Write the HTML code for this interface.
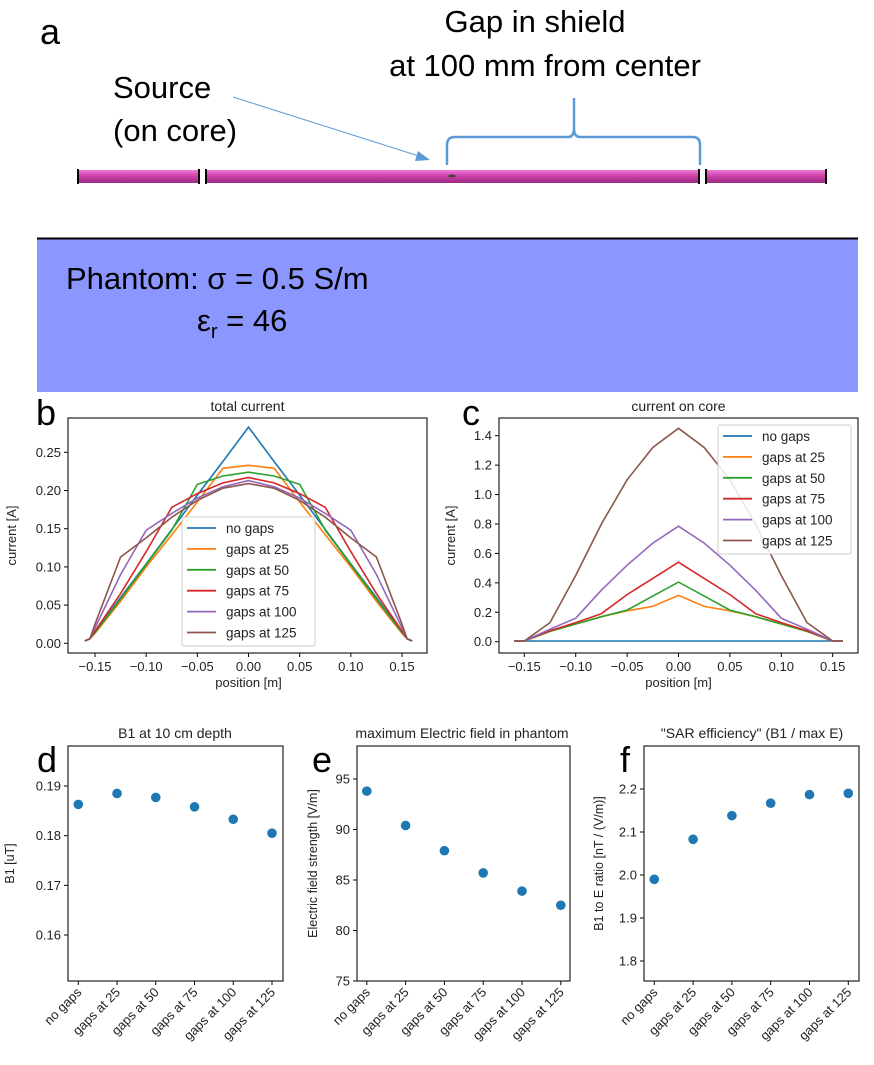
<!DOCTYPE html>
<html><head><meta charset="utf-8"><style>
body{margin:0;background:#fff;}
svg{display:block;font-family:"Liberation Sans","DejaVu Sans",sans-serif;}
</style></head><body>
<svg id="fig" width="874" height="1065" viewBox="0 0 874 1065">
<g>
<text x="40" y="44" font-size="36">a</text>
<text x="535" y="32" font-size="31" text-anchor="middle">Gap in shield</text>
<text x="545" y="76" font-size="31" text-anchor="middle">at 100 mm from center</text>
<text x="113" y="98" font-size="31">Source</text>
<text x="113" y="141" font-size="31">(on core)</text>
<line x1="233" y1="97" x2="422" y2="157" stroke="#5b9bd5" stroke-width="1"/>
<polygon points="430,160 418,151 415,161" fill="#5b9bd5"/>
<path d="M447,165 L447,145 Q447,137 455,137 L568,137 Q574,137 574,128 L574,98 M574,128 Q574,137 580,137 L693,137 Q700,137 700,145 L700,165" fill="none" stroke="#5b9bd5" stroke-width="2.5"/>
<defs><linearGradient id="rod" x1="0" y1="0" x2="0" y2="1"><stop offset="0" stop-color="#f07ad8"/><stop offset="0.5" stop-color="#c83fa6"/><stop offset="1" stop-color="#9c2c80"/></linearGradient></defs>
<rect x="78" y="170" width="121" height="13" fill="url(#rod)"/>
<rect x="206" y="170" width="493" height="13" fill="url(#rod)"/>
<rect x="706" y="170" width="120" height="13" fill="url(#rod)"/>
<g stroke="#000" stroke-width="2"><line x1="78" y1="169" x2="78" y2="184"/><line x1="199" y1="169" x2="199" y2="184"/><line x1="206" y1="169" x2="206" y2="184"/><line x1="699" y1="169" x2="699" y2="184"/><line x1="706" y1="169" x2="706" y2="184"/><line x1="826" y1="169" x2="826" y2="184"/></g>
<ellipse cx="452" cy="176" rx="4" ry="1.5" fill="#444"/>
<rect x="37" y="238" width="821" height="154" fill="#8c96ff"/>
<line x1="37" y1="238.5" x2="858" y2="238.5" stroke="#000" stroke-width="2"/>
<text x="66" y="289" font-size="31">Phantom: σ = 0.5 S/m</text>
<text x="197" y="331" font-size="31">ε<tspan font-size="20" dy="7">r</tspan><tspan dy="-7"> = 46</tspan></text>
</g>
<g id="charts"></g>
</svg>
<script>
const NS="http://www.w3.org/2000/svg";
const colors=["#1f77b4","#ff7f0e","#2ca02c","#d62728","#9467bd","#8c564b"];
const seriesNames=["no gaps","gaps at 25","gaps at 50","gaps at 75","gaps at 100","gaps at 125"];
// Panel b data (half profile, mirrored)
const bX=[-0.16,-0.155,-0.15,-0.125,-0.10,-0.075,-0.05,-0.025,0];
const bNoGaps=[0.003,0.006,0.015,0.06,0.104,0.149,0.194,0.238,0.283];
const bGaps25=[0.003,0.006,0.013,0.055,0.10,0.142,0.185,0.229,0.233];
const bGaps50=[0.003,0.006,0.014,0.058,0.103,0.148,0.208,0.219,0.224];
const bGaps75=[0.003,0.006,0.016,0.065,0.12,0.178,0.196,0.21,0.217];
const bGaps100=[0.003,0.006,0.02,0.09,0.148,0.17,0.19,0.205,0.213];
const bGaps125=[0.003,0.006,0.025,0.113,0.138,0.165,0.187,0.203,0.209];
const bYTicks=[0,0.05,0.10,0.15,0.20,0.25];
const bYTickLabels=["0.00","0.05","0.10","0.15","0.20","0.25"];
// Panel c data
const cX=[-0.16,-0.15,-0.125,-0.10,-0.075,-0.05,-0.025,0];
const cNoGaps=[0.005,0.005,0.005,0.005,0.005,0.005,0.005,0.005];
const cGaps25=[0.005,0.005,0.07,0.12,0.17,0.21,0.24,0.315];
const cGaps50=[0.005,0.005,0.07,0.12,0.17,0.215,0.31,0.405];
const cGaps75=[0.005,0.005,0.075,0.13,0.19,0.32,0.43,0.54];
const cGaps100=[0.005,0.005,0.085,0.16,0.35,0.52,0.67,0.785];
const cGaps125=[0.005,0.005,0.13,0.45,0.80,1.10,1.32,1.45];
const cYTicks=[0,0.2,0.4,0.6,0.8,1.0,1.2,1.4];
const cYTickLabels=["0.0","0.2","0.4","0.6","0.8","1.0","1.2","1.4"];
const posXTicks=[-0.15,-0.10,-0.05,0,0.05,0.10,0.15];
const posXTickLabels=["−0.15","−0.10","−0.05","0.00","0.05","0.10","0.15"];
// Panels d,e,f
const categories=["no gaps","gaps at 25","gaps at 50","gaps at 75","gaps at 100","gaps at 125"];
const dValues=[0.1863,0.1885,0.1877,0.1858,0.1833,0.1805];
const eValues=[93.8,90.4,87.9,85.7,83.9,82.5];
const fValues=[1.99,2.083,2.138,2.167,2.187,2.19];
const dTicks=[0.16,0.17,0.18,0.19];
const eTicks=[75,80,85,90,95];
const fTicks=[1.8,1.9,2.0,2.1,2.2];

const root=document.getElementById('charts');
function el(tag,attrs,parent,text){const e=document.createElementNS(NS,tag);for(const k in attrs)e.setAttribute(k,attrs[k]);if(text!==undefined)e.textContent=text;(parent||root).appendChild(e);return e;}
function lin(d0,d1,r0,r1){return v=>r0+(v-d0)*(r1-r0)/(d1-d0);}

function linePanel(o){
  const g=el('g',{});
  
  
  const X=lin(-0.15,0.15,o.xa,o.xb), Y=lin(o.y0v,o.y1v,o.y0p,o.y1p);
  o.ticksY.forEach((t,i)=>{const y=Y(t);el('line',{x1:o.L-4,x2:o.L,y1:y,y2:y,stroke:'#000'},g);
    const tx=el('text',{x:o.L-7,y:y+4.5,'font-size':13,'text-anchor':'end',fill:'#222'},g,o.tickLabY[i]);
    });
  posXTicks.forEach((t,i)=>{const x=X(t);el('line',{x1:x,x2:x,y1:o.B,y2:o.B+4,stroke:'#000'},g);
    const tx=el('text',{x:x,y:o.B+18,'font-size':13,'text-anchor':'middle',fill:'#222'},g,posXTickLabels[i]);
    });
  o.series.forEach((s,i)=>{
    const pts=[];o.xs.forEach((xv,j)=>pts.push([X(xv),Y(s[j])]));
    for(let j=o.xs.length-2;j>=0;j--)pts.push([X(-o.xs[j]),Y(s[j])]);
    const p=el('polyline',{points:pts.map(p=>p[0].toFixed(1)+','+p[1].toFixed(1)).join(' '),fill:'none',stroke:colors[i],'stroke-width':1.6},g);
    
    
  });
  const fr=el('rect',{x:o.L,y:o.T,width:o.R-o.L,height:o.B-o.T,fill:'none',stroke:'#222','stroke-width':1.2},g);
  
  const lg=el('g',{},g);
  
  el('rect',{x:o.lg.x,y:o.lg.y,width:o.lg.w,height:o.lg.h,fill:'#fff','fill-opacity':0.85,stroke:'#ccc',rx:2},lg);
  seriesNames.forEach((n,i)=>{const y=o.lg.ry0+i*o.lg.dy;
    el('line',{x1:o.lg.x+5,x2:o.lg.x+34,y1:y,y2:y,stroke:colors[i],'stroke-width':1.8},lg);
    const t=el('text',{x:o.lg.x+44,y:y+5,'font-size':13.5,fill:'#222'},lg,n);
    });
  const ti=el('text',{x:(o.L+o.R)/2,y:o.T-7,'font-size':14,'text-anchor':'middle',fill:'#222'},g,o.title);
  
  const xl=el('text',{x:X(0),y:o.B+34,'font-size':13,'text-anchor':'middle',fill:'#222'},g,'position [m]');
  
  const yl=el('text',{x:o.ylx,y:(o.T+o.B)/2,'font-size':13,'text-anchor':'middle',fill:'#222',transform:`rotate(-90 ${o.ylx} ${(o.T+o.B)/2})`},g,'current [A]');
  
  const pl=el('text',{x:o.lab[0],y:o.lab[1],'font-size':36,fill:'#000'},g,o.label);
  
}
linePanel({name:'panel-b-total-current',L:68,R:427,T:418,B:653,xa:95,xb:402,y0v:0,y1v:0.25,y0p:643.3,y1p:452.3,
  ticksY:bYTicks,tickLabY:bYTickLabels,xs:bX,series:[bNoGaps,bGaps25,bGaps50,bGaps75,bGaps100,bGaps125],
  lg:{x:182,y:517,w:133,h:129,ry0:528,dy:20.9},title:'total current',ylx:16,lab:[36,425],label:'b'});
linePanel({name:'panel-c-current-on-core',L:499,R:858,T:418,B:653,xa:524.3,xb:832.7,y0v:0,y1v:1.4,y0p:641.7,y1p:435.7,
  ticksY:cYTicks,tickLabY:cYTickLabels,xs:cX,series:[cNoGaps,cGaps25,cGaps50,cGaps75,cGaps100,cGaps125],
  lg:{x:718,y:425,w:133,h:129,ry0:436,dy:20.9},title:'current on core',ylx:455,lab:[462,425],label:'c'});

function scatterPanel(o){
  const g=el('g',{});
  
  
  const X=i=>o.xa+i*(o.xb-o.xa)/(categories.length-1);
  const Y=lin(o.t0,o.t1,o.p0,o.p1);
  o.ticks.forEach(t=>{const y=Y(t);el('line',{x1:o.L-4,x2:o.L,y1:y,y2:y,stroke:'#000'},g);
    const tx=el('text',{x:o.L-7,y:y+4.5,'font-size':13,'text-anchor':'end',fill:'#222'},g,o.fmt(t));
    });
  categories.forEach((c,i)=>{const x=X(i);el('line',{x1:x,x2:x,y1:o.B,y2:o.B+4,stroke:'#000'},g);
    const tx=el('text',{x:x+4,y:o.B+12,'font-size':13,'text-anchor':'end',fill:'#222',transform:`rotate(-45 ${x+4} ${o.B+12})`},g,c);
    });
  o.values.forEach((v,i)=>{const p=el('circle',{cx:X(i),cy:Y(v),r:4.8,fill:'#1f77b4'},g);
    });
  const fr=el('rect',{x:o.L,y:o.T,width:o.R-o.L,height:o.B-o.T,fill:'none',stroke:'#222','stroke-width':1.2},g);
  
  const ti=el('text',{x:o.tx,y:o.T-8,'font-size':14,'text-anchor':'middle',fill:'#222'},g,o.title);
  
  const yl=el('text',{x:o.ylx,y:(o.T+o.B)/2,'font-size':12.5,'text-anchor':'middle',fill:'#222',transform:`rotate(-90 ${o.ylx} ${(o.T+o.B)/2})`},g,o.ylabel);
  
  const pl=el('text',{x:o.lab[0],y:o.lab[1],'font-size':36,fill:'#000'},g,o.label);
  
}
scatterPanel({name:'panel-d-b1',L:68,R:283,T:746,B:981,xa:78.3,xb:272,t0:0.16,t1:0.19,p0:935,p1:786,ticks:dTicks,fmt:v=>v.toFixed(2),
  values:dValues,title:'B1 at 10 cm depth',tx:175,ylx:14,ylabel:'B1 [uT]',lab:[37,772],label:'d'});
scatterPanel({name:'panel-e-efield',L:357,R:570,T:746,B:981,xa:366.8,xb:560.8,t0:75,t1:95,p0:981,p1:779,ticks:eTicks,fmt:v=>String(v),
  values:eValues,title:'maximum Electric field in phantom',tx:462,ylx:317,ylabel:'Electric field strength [V/m]',lab:[312,772],label:'e'});
scatterPanel({name:'panel-f-sar-efficiency',L:644,R:859,T:746,B:981,xa:654.3,xb:848.3,t0:1.8,t1:2.2,p0:961,p1:789,ticks:fTicks,fmt:v=>v.toFixed(1),
  values:fValues,title:'"SAR efficiency" (B1 / max E)',tx:752,ylx:603,ylabel:'B1 to E ratio [nT / (V/m)]',lab:[620,772],label:'f'});
</script>
</body></html>
